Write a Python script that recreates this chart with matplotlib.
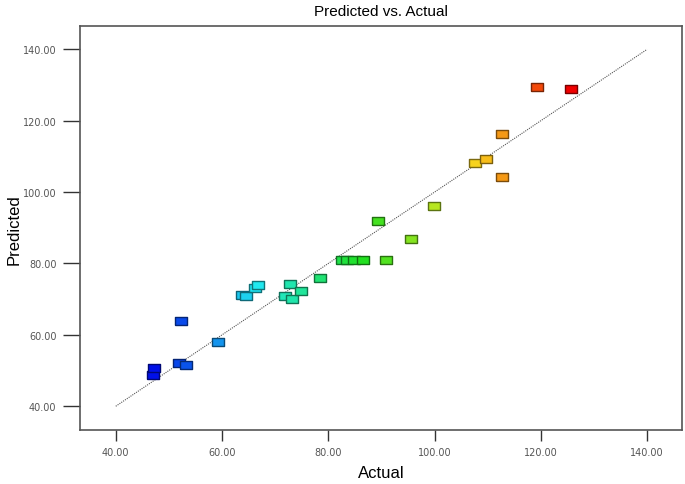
import matplotlib
matplotlib.use('Agg')
import matplotlib.pyplot as plt
import numpy as np
from matplotlib.colors import LinearSegmentedColormap

# actual vs predicted values
actual = [47.0, 47.2, 52.0, 53.2, 52.3, 59.2, 63.8, 64.6, 66.2, 66.8,
          72.8, 71.9, 73.2, 74.9, 78.4, 82.6, 83.6, 84.8, 86.6, 90.8,
          89.4, 95.5, 99.9, 107.7, 109.6, 112.7, 112.7, 119.2, 125.6]
predicted = [48.7, 50.6, 52.0, 51.5, 63.8, 58.0, 71.3, 71.0, 73.2, 73.9,
             74.3, 71.0, 70.1, 72.4, 75.8, 81.0, 81.0, 81.0, 81.0, 81.0,
             92.0, 86.8, 96.0, 108.1, 109.3, 116.3, 104.3, 129.4, 128.8]
ticks = [40, 60, 80, 100, 120, 140]

cmap = LinearSegmentedColormap.from_list(
    'de', ['#0010e8', '#20e8f0', '#20e020', '#f8e820', '#f00000'])

fig = plt.figure(figsize=(6.85, 4.85), dpi=100)
ax = fig.add_axes([0.117, 0.111, 0.878, 0.833])

# y = x reference line
ax.plot([40, 140], [40, 140], linestyle=(0, (1, 1)), color='#555555', linewidth=0.8, zorder=1)

norm = plt.Normalize(min(actual), max(actual))
rect = [(-1, -0.62), (1, -0.62), (1, 0.62), (-1, 0.62), (-1, -0.62)]
for a, p in zip(actual, predicted):
    c = np.array(cmap(norm(a))[:3])
    ax.scatter([a], [p], marker=rect, s=85, color=c, edgecolors=c * 0.5,
               linewidths=1.0, zorder=3)

ax.set_xlim(33.3, 146.5)
ax.set_ylim(33.3, 146.5)
ax.set_xticks(ticks)
ax.set_yticks(ticks)
ax.set_xticklabels(['%.2f' % t for t in ticks])
ax.set_yticklabels(['%.2f' % t for t in ticks])
ax.tick_params(axis='x', direction='out', length=8, width=1, colors='#333333',
               labelsize=7, labelcolor='#555555', pad=4)
ax.tick_params(axis='y', direction='out', length=12, width=1, colors='#333333',
               labelsize=7, labelcolor='#555555', pad=5)
for s in ax.spines.values():
    s.set_color('#555555')
    s.set_linewidth(1.2)

ax.set_title('Predicted vs. Actual', fontsize=11, pad=8, family='Liberation Sans')
ax.set_xlabel('Actual', fontsize=12, labelpad=6, family='Liberation Sans')
ax.set_ylabel('Predicted', fontsize=12, family='Liberation Sans')
ax.yaxis.set_label_coords(-0.098, 0.5)

fig.savefig('out.png', dpi=100)
